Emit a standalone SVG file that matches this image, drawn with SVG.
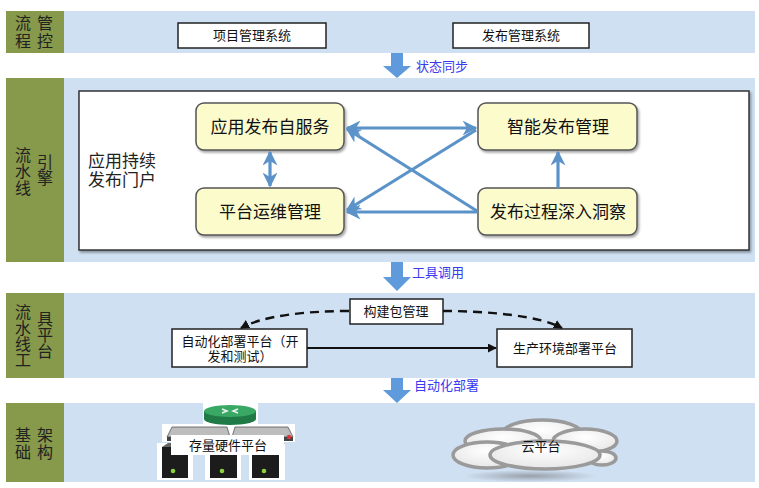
<svg xmlns="http://www.w3.org/2000/svg" width="759" height="488" viewBox="0 0 759 488">
<style>
.band{fill:#cfe0f2}
.side{fill:#87994a}
.st{font-family:"Liberation Sans","Noto Sans CJK SC",sans-serif;font-size:16px;fill:#222}
.t13{font-family:"Liberation Sans","Noto Sans CJK SC",sans-serif;font-size:13px;fill:#111;text-anchor:middle}
.t17{font-family:"Liberation Sans","Noto Sans CJK SC",sans-serif;font-size:17px;fill:#111;text-anchor:middle}
.lbl{font-family:"Liberation Sans","Noto Sans CJK SC",sans-serif;font-size:13px;fill:#3a3af0}
.box{fill:#fff;stroke:#222;stroke-width:1.5}
.node{fill:#fcfbcc;stroke:#555;stroke-width:1.5}
.big{fill:#5f9bdc}
.ba{fill:none;stroke:#5b93c9;stroke-width:3.2}
.dash{fill:none;stroke:#111;stroke-width:2.4;stroke-dasharray:9,6}
.cl{fill:url(#cg);stroke:#9a9a9a;stroke-width:3.5}
</style>
<defs>
<marker id="bh" viewBox="0 0 10 10" refX="9" refY="5" markerWidth="15" markerHeight="15" markerUnits="userSpaceOnUse" orient="auto-start-reverse">
<path d="M0,0 L10,5 L0,10 L3,5 z" fill="#5b93c9"/>
</marker>
<marker id="kh" viewBox="0 0 10 10" refX="9" refY="5" markerWidth="9" markerHeight="9" markerUnits="userSpaceOnUse" orient="auto">
<path d="M0,0 L10,5 L0,10 z" fill="#111"/>
</marker>
<filter id="sh" x="-10%" y="-10%" width="130%" height="130%">
<feDropShadow dx="1.5" dy="2" stdDeviation="1.2" flood-color="#000" flood-opacity="0.35"/>
</filter>
<radialGradient id="cg" cx="50%" cy="35%" r="65%">
<stop offset="0" stop-color="#ffffff"/><stop offset="1" stop-color="#e6e6e6"/>
</radialGradient>
<radialGradient id="shd" cx="50%" cy="50%" r="50%">
<stop offset="0" stop-color="#8a8f96" stop-opacity="0.8"/><stop offset="1" stop-color="#8a8f96" stop-opacity="0"/>
</radialGradient>
</defs>

<!-- bands -->
<g id="band-flow-control">
<rect class="band" x="64" y="11" width="691" height="42"/>
<rect class="side" x="6" y="11" width="58" height="42"/>
<text class="st" x="15" y="29">流</text><text class="st" x="37" y="29">管</text>
<text class="st" x="15" y="47">程</text><text class="st" x="37" y="47">控</text>
</g>
<g id="band-pipeline-engine">
<rect class="band" x="64" y="78" width="691" height="184"/>
<rect class="side" x="6" y="78" width="58" height="184"/>
<text class="st" x="15" y="161">流</text><text class="st" x="15" y="177">水</text><text class="st" x="15" y="194">线</text>
<text class="st" x="37" y="168">引</text><text class="st" x="37" y="184">擎</text>
</g>
<g id="band-pipeline-tools">
<rect class="band" x="64" y="293" width="691" height="85"/>
<rect class="side" x="6" y="293" width="58" height="85"/>
<text class="st" x="15" y="318">流</text><text class="st" x="15" y="334">水</text><text class="st" x="15" y="350">线</text><text class="st" x="15" y="366">工</text>
<text class="st" x="37" y="325">具</text><text class="st" x="37" y="341">平</text><text class="st" x="37" y="357">台</text>
</g>
<g id="band-infra">
<rect class="band" x="64" y="403" width="691" height="79"/>
<rect class="side" x="6" y="403" width="58" height="79"/>
<text class="st" x="15" y="441">基</text><text class="st" x="37" y="441">架</text>
<text class="st" x="15" y="458">础</text><text class="st" x="37" y="458">构</text>
</g>

<!-- band 1 nodes -->
<g id="project-mgmt"><rect class="box" x="178" y="23" width="148" height="25"/><text class="t13" x="252" y="40">项目管理系统</text></g>
<g id="release-mgmt"><rect class="box" x="453" y="23" width="136" height="25"/><text class="t13" x="521" y="40">发布管理系统</text></g>

<!-- band 2 -->
<g id="portal">
<rect x="79" y="91" width="670" height="159" fill="#fff" stroke="#333" stroke-width="1.5" filter="url(#sh)"/>
<text class="st" x="88" y="167" style="font-size:17px">应用持续</text>
<text class="st" x="88" y="186" style="font-size:17px">发布门户</text>
</g>
<g id="app-self-service"><rect class="node" x="196" y="103" width="148" height="47" rx="8" filter="url(#sh)"/><text class="t17" x="270" y="133">应用发布自服务</text></g>
<g id="smart-release"><rect class="node" x="478" y="103" width="159" height="47" rx="8" filter="url(#sh)"/><text class="t17" x="558" y="133">智能发布管理</text></g>
<g id="platform-ops"><rect class="node" x="196" y="188" width="148" height="47" rx="8" filter="url(#sh)"/><text class="t17" x="270" y="218">平台运维管理</text></g>
<g id="release-insight"><rect class="node" x="478" y="188" width="159" height="47" rx="8" filter="url(#sh)"/><text class="t17" x="558" y="218">发布过程深入洞察</text></g>

<!-- band 3 -->
<g id="build-pkg"><rect class="box" x="350" y="299" width="93" height="25"/><text class="t13" x="396" y="316">构建包管理</text></g>
<g id="auto-deploy"><rect class="box" x="172" y="329" width="135" height="38"/><text class="t13" x="240" y="346">自动化部署平台（开</text><text class="t13" x="240" y="361">发和测试）</text></g>
<g id="prod-deploy"><rect class="box" x="497" y="329" width="135" height="38"/><text class="t13" x="565" y="353">生产环境部署平台</text></g>

<!-- band 4 -->
<g id="storage-hw">
<rect x="203" y="403" width="55" height="21" fill="#fff"/>
<rect x="162" y="424" width="133" height="18" fill="#fff"/>
<rect x="157" y="443" width="36" height="37" fill="#fff"/>
<rect x="205" y="443" width="36" height="37" fill="#fff"/>
<rect x="249" y="443" width="36" height="37" fill="#fff"/>
<path d="M204,411 L204,419 A26,6 0 0 0 256,419 L256,411 Z" fill="#1f7a45"/>
<ellipse cx="230" cy="411" rx="26" ry="6" fill="#39a865"/>
<path d="M222,409 L227,411 L222,413 M238,409 L233,411 L238,413" stroke="#e8f5ec" stroke-width="1.5" fill="none"/>
<path d="M167,437 L172,427 L227,427 L230,437 Z" fill="#bdbdbd" stroke="#555" stroke-width="0.8"/>
<path d="M232,437 L235,427 L288,427 L293,437 Z" fill="#bdbdbd" stroke="#555" stroke-width="0.8"/>
<rect x="167" y="437" width="126" height="4" fill="#444"/>
<circle cx="289" cy="437" r="2.2" fill="#d9363e"/>
<rect x="162" y="447" width="26" height="31" fill="#1c1c1c"/>
<rect x="210" y="447" width="27" height="31" fill="#1c1c1c"/>
<rect x="252" y="447" width="27" height="31" fill="#1c1c1c"/>
<path d="M162,447 L168,443 L194,443 L188,447 Z M210,447 L216,443 L243,443 L237,447 Z M252,447 L258,443 L285,443 L279,447 Z" fill="#666"/>
<circle cx="173" cy="471" r="2.3" fill="#8bd13a"/>
<circle cx="222" cy="471" r="2.3" fill="#8bd13a"/>
<circle cx="264" cy="471" r="2.3" fill="#8bd13a"/>
<rect x="171" y="435" width="113" height="20" fill="#fff"/>
<text class="t13" x="228" y="450">存量硬件平台</text>
</g>
<g id="cloud">
<ellipse cx="530" cy="476" rx="66" ry="6" fill="url(#shd)"/>
<ellipse class="cl" cx="542" cy="434" rx="40" ry="14"/>
<ellipse class="cl" cx="503" cy="441" rx="38" ry="12"/>
<ellipse class="cl" cx="585" cy="441" rx="32" ry="12"/>
<ellipse class="cl" cx="602" cy="458" rx="14" ry="7"/>
<ellipse class="cl" cx="487" cy="455" rx="34" ry="13"/>
<ellipse class="cl" cx="545" cy="455" rx="55" ry="14"/>
<text class="t13" x="541" y="451">云平台</text>
</g>

<!-- connectors -->
<g id="connectors">
<path class="big" d="M391,53 L403,53 L403,66 L411,66 L397,78 L383,66 L391,66 Z"/>
<text class="lbl" x="416" y="71">状态同步</text>
<path class="big" d="M391,262 L403,262 L403,277 L411,277 L397,291 L383,277 L391,277 Z"/>
<text class="lbl" x="412" y="277">工具调用</text>
<path class="big" d="M391,378 L403,378 L403,390 L411,390 L397,403 L383,390 L391,390 Z"/>
<text class="lbl" x="414" y="390">自动化部署</text>

<line class="ba" x1="347" y1="128" x2="476" y2="128" marker-start="url(#bh)" marker-end="url(#bh)"/>
<line class="ba" x1="477" y1="211" x2="347" y2="129" marker-end="url(#bh)"/>
<line class="ba" x1="476" y1="130" x2="347" y2="210" marker-end="url(#bh)"/>
<line class="ba" x1="478" y1="212" x2="347" y2="212" marker-end="url(#bh)"/>
<line class="ba" x1="270" y1="152" x2="270" y2="186" marker-start="url(#bh)" marker-end="url(#bh)"/>
<line class="ba" x1="558" y1="188" x2="558" y2="152" marker-end="url(#bh)"/>

<line x1="307" y1="348" x2="496" y2="348" stroke="#111" stroke-width="2" marker-end="url(#kh)"/>
<path class="dash" d="M349,311 C305,311 262,316 241,328" marker-end="url(#kh)"/>
<path class="dash" d="M443,311 C490,311 540,316 562,328" marker-end="url(#kh)"/>
</g>
</svg>
